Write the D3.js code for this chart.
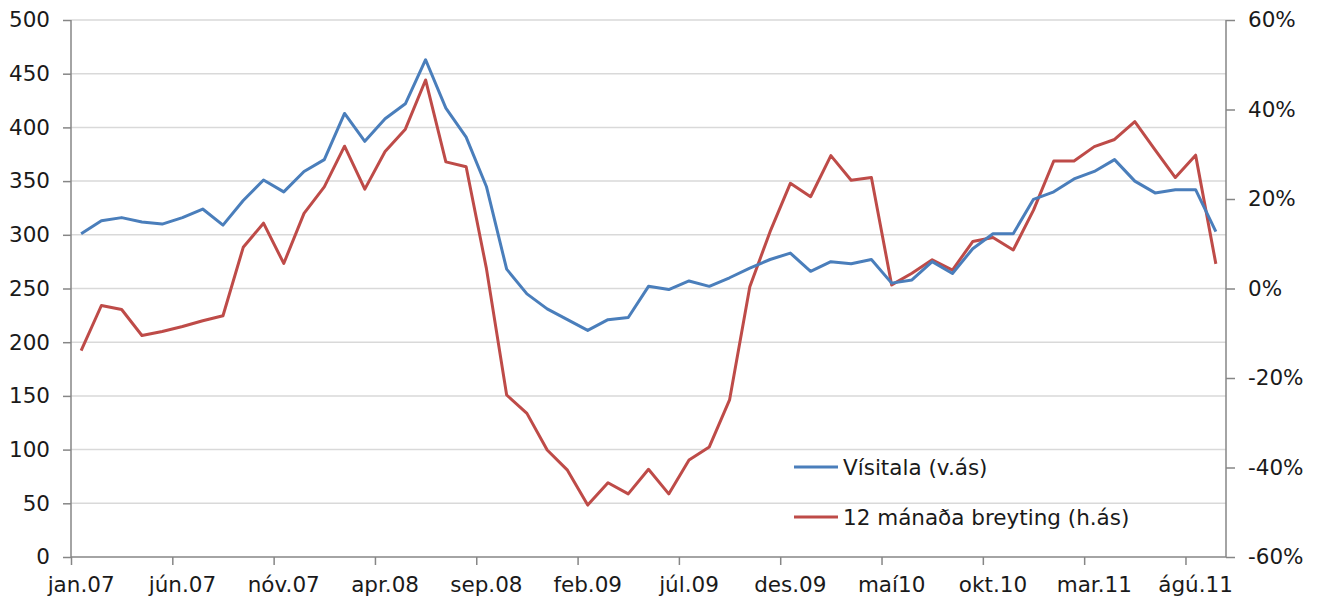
<!DOCTYPE html>
<html>
<head>
<meta charset="utf-8">
<script src="https://cdn.jsdelivr.net/npm/d3@7"></script>
<style>
  html, body { margin: 0; padding: 0; background: #fff; }
  text { font-family: "DejaVu Sans", Verdana, sans-serif; fill: #1a1a1a; }
</style>
</head>
<body>
<div id="chart"></div>
<script>
// mánuðir jan.07 - sep.11
const months = [
  "jan.07","feb.07","mar.07","apr.07","maí07","jún.07","júl.07","ágú.07","sep.07","okt.07","nóv.07","des.07",
  "jan.08","feb.08","mar.08","apr.08","maí08","jún.08","júl.08","ágú.08","sep.08","okt.08","nóv.08","des.08",
  "jan.09","feb.09","mar.09","apr.09","maí09","jún.09","júl.09","ágú.09","sep.09","okt.09","nóv.09","des.09",
  "jan.10","feb.10","mar.10","apr.10","maí10","jún.10","júl.10","ágú.10","sep.10","okt.10","nóv.10","des.10",
  "jan.11","feb.11","mar.11","apr.11","maí11","jún.11","júl.11","ágú.11","sep.11"
];

// Vísitala (vinstri ás)
const visitala = [
  301, 313, 316, 312, 310, 316, 324, 309, 332, 351, 340, 359,
  370, 413, 387, 408, 422, 463, 418, 391, 345, 268, 245, 231,
  221, 211, 221, 223, 252, 249, 257, 252, 260, 269, 277, 283,
  266, 275, 273, 277, 255, 258, 275, 264, 287, 301, 301, 333,
  340, 352, 359, 370, 350, 339, 342, 342, 303
];

// 12 mánaða breyting í % (hægri ás)
const breyting = [
  -13.9, -3.8, -4.7, -10.5, -9.6, -8.5, -7.2, -6.1, 9.2, 14.6, 5.6, 16.8,
  22.7, 31.8, 22.2, 30.6, 35.6, 46.6, 28.3, 27.2, 4.5, -23.8, -27.9, -36.1,
  -40.6, -48.4, -43.4, -45.9, -40.4, -45.9, -38.3, -35.4, -24.9, 0.4, 12.7, 23.5,
  20.5, 29.7, 24.2, 24.8, 0.8, 3.4, 6.4, 4.1, 10.5, 11.4, 8.6, 17.5,
  28.5, 28.5, 31.7, 33.3, 37.3, 31.0, 24.8, 29.8, 5.5
];

const xLabels = ["jan.07","jún.07","nóv.07","apr.08","sep.08","feb.09","júl.09","des.09","maí10","okt.10","mar.11","ágú.11"];
const leftTicks = [0, 50, 100, 150, 200, 250, 300, 350, 400, 450, 500];
const rightTicks = [-60, -40, -20, 0, 20, 40, 60];

const seriesNames = ["Vísitala (v.ás)", "12 mánaða breyting (h.ás)"];
const colors = ["#4a7ebb", "#be4b48"];

const W = 1330, H = 601;
const plot = { left: 71, right: 1226, top: 20, bottom: 557 };
const fontSize = "21.5px";
const axisColor = "#868686";

const svg = d3.select("#chart").append("svg")
  .attr("width", W)
  .attr("height", H);

const x = d3.scaleBand().domain(months).range([plot.left, plot.right]).padding(0);
const yL = d3.scaleLinear().domain([0, 500]).range([plot.bottom, plot.top]);
const yR = d3.scaleLinear().domain([-60, 60]).range([plot.bottom, plot.top]);

// gridlínur
svg.append("g")
  .selectAll("line")
  .data(leftTicks.slice(1))
  .enter().append("line")
  .attr("x1", plot.left).attr("x2", plot.right)
  .attr("y1", d => yL(d)).attr("y2", d => yL(d))
  .attr("stroke", "#d9d9d9")
  .attr("stroke-width", 1.5);

// vinstri ás
const gL = svg.append("g")
  .attr("transform", `translate(${plot.left},0)`)
  .call(d3.axisLeft(yL).tickValues(leftTicks).tickSize(8).tickPadding(13));

// hægri ás
const gR = svg.append("g")
  .attr("transform", `translate(${plot.right},0)`)
  .call(d3.axisRight(yR).tickValues(rightTicks).tickSize(9).tickPadding(13)
    .tickFormat(d => d + "%"));

// x-ás: strik á mörkum flokka, merki í miðju flokks
const xIdx = d3.scaleLinear().domain([0, months.length]).range([plot.left, plot.right]);
const gB = svg.append("g")
  .attr("transform", `translate(0,${plot.bottom})`)
  .call(d3.axisBottom(xIdx).tickValues(d3.range(0, months.length, 5)).tickSize(8).tickFormat(""));

svg.append("g")
  .selectAll("text")
  .data(xLabels)
  .enter().append("text")
  .attr("x", d => x(d) + x.bandwidth() / 2)
  .attr("y", 592)
  .attr("text-anchor", "middle")
  .style("font-size", fontSize)
  .text(d => d);

[gL, gR, gB].forEach(g => {
  g.select(".domain").attr("stroke", axisColor).attr("stroke-width", 1.5);
  g.selectAll(".tick line").attr("stroke", axisColor).attr("stroke-width", 1.5);
  g.selectAll(".tick text").style("font-size", fontSize).style("fill", "#1a1a1a")
    .style("font-family", "DejaVu Sans, Verdana, sans-serif");
});
gL.select(".domain").attr("d", `M0,${plot.top}V${plot.bottom}`);
gR.select(".domain").attr("d", `M0,${plot.top}V${plot.bottom}`);
gB.select(".domain").attr("d", `M${plot.left},0H${plot.right}`);
gR.selectAll(".tick text").attr("text-anchor", "start");

// línur
const lineL = d3.line()
  .x((d, i) => x(months[i]) + x.bandwidth() / 2)
  .y(d => yL(d));
const lineR = d3.line()
  .x((d, i) => x(months[i]) + x.bandwidth() / 2)
  .y(d => yR(d));

svg.append("path")
  .datum(breyting)
  .attr("d", lineR)
  .attr("fill", "none")
  .attr("stroke", colors[1])
  .attr("stroke-width", 3)
  .attr("stroke-linejoin", "round");

svg.append("path")
  .datum(visitala)
  .attr("d", lineL)
  .attr("fill", "none")
  .attr("stroke", colors[0])
  .attr("stroke-width", 3)
  .attr("stroke-linejoin", "round");

// skýringar
const legend = svg.append("g").attr("transform", "translate(794,467)");
const items = legend.selectAll("g")
  .data(seriesNames)
  .enter().append("g")
  .attr("transform", (d, i) => `translate(0,${i * 50})`);
items.append("line")
  .attr("x1", 0).attr("x2", 44)
  .attr("stroke", (d, i) => colors[i])
  .attr("stroke-width", 3);
items.append("text")
  .attr("x", 49)
  .attr("dy", "0.35em")
  .style("font-size", fontSize)
  .text(d => d);
</script>
</body>
</html>
